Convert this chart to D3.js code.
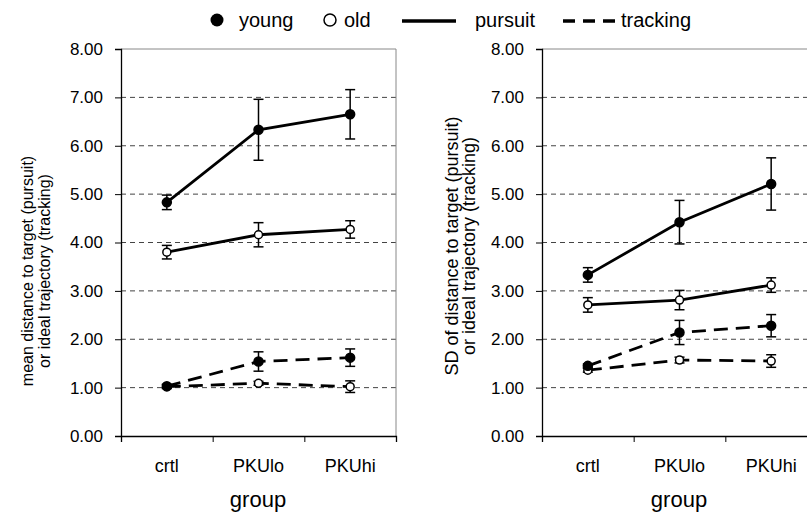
<!DOCTYPE html>
<html>
<head>
<meta charset="utf-8">
<script src="https://cdn.jsdelivr.net/npm/d3@7"></script>
<style>
    body { margin: 0; background: white; }
    svg { display: block; font-family: "Liberation Sans", Arial, sans-serif; }
</style>
</head>
<body>
<svg id="canvas" width="807" height="515"></svg>
<script>
"use strict"

// Categories and tick labels
let groups = ["crtl", "PKUlo", "PKUhi"];
let yTicks = [0, 1, 2, 3, 4, 5, 6, 7, 8];

// Left panel: mean distance
let meanYoungPursuit = [4.83, 6.33, 6.65];
let meanYoungPursuitErr = [0.15, 0.63, 0.51];
let meanOldPursuit = [3.80, 4.16, 4.27];
let meanOldPursuitErr = [0.14, 0.25, 0.18];
let meanYoungTracking = [1.03, 1.54, 1.62];
let meanYoungTrackingErr = [0.04, 0.20, 0.18];
let meanOldTracking = [1.02, 1.09, 1.02];
let meanOldTrackingErr = [0.04, 0.04, 0.12];

// Right panel: SD of distance
let sdYoungPursuit = [3.33, 4.42, 5.21];
let sdYoungPursuitErr = [0.15, 0.45, 0.54];
let sdOldPursuit = [2.71, 2.81, 3.12];
let sdOldPursuitErr = [0.15, 0.20, 0.15];
let sdYoungTracking = [1.45, 2.14, 2.28];
let sdYoungTrackingErr = [0.04, 0.25, 0.23];
let sdOldTracking = [1.36, 1.57, 1.55];
let sdOldTrackingErr = [0.04, 0.06, 0.13];

let drawing = d3.select("#canvas");

/* Draws one panel; left is the x of the y axis */
function drawPanel(left, titleLines, titleX, titleY, titleSize, series) {
    let right = left + 275;
    let top = 49;
    let bottom = 436;

    let x = d3.scaleBand().domain(groups).range([left, right]);
    let edges = d3.scaleLinear().domain([0, groups.length]).range([left, right]);
    let y = d3.scaleLinear().domain([0, 8]).range([bottom, top]);

    let g = drawing.append("g");

    /* dashed gridlines */
    g.selectAll(".grid")
        .data(yTicks.filter(d => d > 0 && d < 8))
        .enter().append("line")
        .attr("x1", left)
        .attr("x2", right)
        .attr("y1", d => y(d))
        .attr("y2", d => y(d))
        .attr("stroke", "#444")
        .attr("stroke-width", 1)
        .attr("stroke-dasharray", "5,4");

    /* plot border (top and right) */
    g.append("path")
        .attr("d", "M" + left + "," + y(8) + "H" + right + "V" + y(0))
        .attr("fill", "none")
        .attr("stroke", "#888")
        .attr("stroke-width", 1);

    /* y axis */
    let yAxis = g.append("g")
        .attr("transform", "translate(" + left + ",0)")
        .call(d3.axisLeft(y).tickValues(yTicks).tickFormat(d3.format(".2f")).tickSize(6).tickPadding(12));
    yAxis.select(".domain").attr("stroke", "#000").attr("stroke-width", 1.3);
    yAxis.selectAll("text").attr("font-size", 17).attr("fill", "#000").attr("font-family", "Liberation Sans, Arial");

    /* x axis: ticks at band edges, labels at band centres */
    let xAxis = g.append("g")
        .attr("transform", "translate(0," + bottom + ")")
        .call(d3.axisBottom(edges).tickValues(d3.range(groups.length + 1)).tickFormat("").tickSize(6));
    xAxis.select(".domain").attr("stroke", "#000").attr("stroke-width", 1.3);

    g.selectAll(".xlab")
        .data(groups)
        .enter().append("text")
        .attr("x", d => x(d) + x.bandwidth() / 2)
        .attr("y", 472)
        .attr("text-anchor", "middle")
        .attr("font-size", 18)
        .text(d => d);

    g.append("text")
        .attr("x", left + 137)
        .attr("y", 507)
        .attr("text-anchor", "middle")
        .attr("font-size", 22)
        .text("group");

    /* y axis title, two lines */
    titleLines.forEach(function (line, i) {
        g.append("text")
            .attr("transform", "translate(" + (titleX + i * 17) + "," + titleY + ") rotate(-90)")
            .attr("text-anchor", "middle")
            .attr("font-size", titleSize)
            .text(line);
    });

    let cx = d => x(d) + x.bandwidth() / 2;

    series.forEach(function (s) {
        let pts = groups.map((d, i) => ({ g: d, v: s.values[i], e: s.errors[i] }));

        /* connecting line */
        g.append("path")
            .datum(pts)
            .attr("d", d3.line().x(p => cx(p.g)).y(p => y(p.v)))
            .attr("fill", "none")
            .attr("stroke", "#000")
            .attr("stroke-width", 2.8)
            .attr("stroke-dasharray", s.dashed ? "14,8" : null);

        /* error bars */
        let eb = g.selectAll(null).data(pts).enter().append("g");
        eb.append("line")
            .attr("x1", p => cx(p.g)).attr("x2", p => cx(p.g))
            .attr("y1", p => y(p.v - p.e)).attr("y2", p => y(p.v + p.e))
            .attr("stroke", "#000").attr("stroke-width", 1.5);
        eb.append("line")
            .attr("x1", p => cx(p.g) - 5).attr("x2", p => cx(p.g) + 5)
            .attr("y1", p => y(p.v + p.e)).attr("y2", p => y(p.v + p.e))
            .attr("stroke", "#000").attr("stroke-width", 1.5);
        eb.append("line")
            .attr("x1", p => cx(p.g) - 5).attr("x2", p => cx(p.g) + 5)
            .attr("y1", p => y(p.v - p.e)).attr("y2", p => y(p.v - p.e))
            .attr("stroke", "#000").attr("stroke-width", 1.5);

        /* markers */
        g.selectAll(null).data(pts).enter().append("circle")
            .attr("cx", p => cx(p.g))
            .attr("cy", p => y(p.v))
            .attr("r", s.young ? 4.5 : 4)
            .attr("fill", s.young ? "#000" : "#fff")
            .attr("stroke", "#000")
            .attr("stroke-width", 1.5);
    });
}

drawPanel(121,
    ["mean distance to target (pursuit)", "or ideal trajectory (tracking)"],
    33, 271, 16,
    [
        { values: meanOldTracking, errors: meanOldTrackingErr, young: false, dashed: true },
        { values: meanYoungTracking, errors: meanYoungTrackingErr, young: true, dashed: true },
        { values: meanOldPursuit, errors: meanOldPursuitErr, young: false, dashed: false },
        { values: meanYoungPursuit, errors: meanYoungPursuitErr, young: true, dashed: false }
    ]);

drawPanel(542,
    ["SD of distance to target (pursuit)", "or ideal trajectory (tracking)"],
    458, 246, 18,
    [
        { values: sdOldTracking, errors: sdOldTrackingErr, young: false, dashed: true },
        { values: sdYoungTracking, errors: sdYoungTrackingErr, young: true, dashed: true },
        { values: sdOldPursuit, errors: sdOldPursuitErr, young: false, dashed: false },
        { values: sdYoungPursuit, errors: sdYoungPursuitErr, young: true, dashed: false }
    ]);

/* Legend at the top */
let legend = drawing.append("g").attr("font-size", 20);

legend.append("circle").attr("cx", 217).attr("cy", 20).attr("r", 6.5).attr("fill", "#000");
legend.append("text").attr("x", 239).attr("y", 27).text("young");

legend.append("circle").attr("cx", 330).attr("cy", 20).attr("r", 6).attr("fill", "#fff")
    .attr("stroke", "#000").attr("stroke-width", 1.5);
legend.append("text").attr("x", 344).attr("y", 27).text("old");

legend.append("line").attr("x1", 402).attr("x2", 456).attr("y1", 21).attr("y2", 21)
    .attr("stroke", "#000").attr("stroke-width", 3.5);
legend.append("text").attr("x", 475).attr("y", 27).text("pursuit");

legend.append("line").attr("x1", 563).attr("x2", 615).attr("y1", 21).attr("y2", 21)
    .attr("stroke", "#000").attr("stroke-width", 3.5).attr("stroke-dasharray", "12,8");
legend.append("text").attr("x", 621).attr("y", 27).text("tracking");
</script>
</body>
</html>
